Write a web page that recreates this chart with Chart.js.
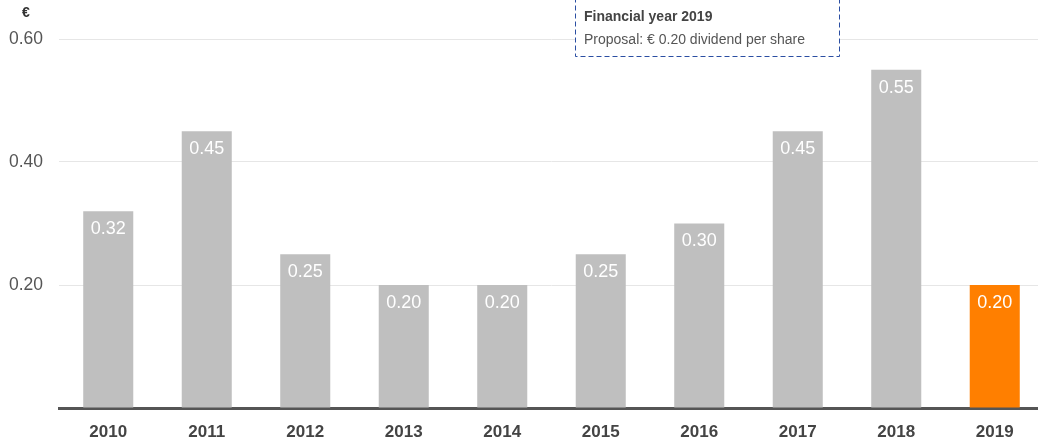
<!DOCTYPE html>
<html>
<head>
<meta charset="utf-8">
<script src="https://cdn.jsdelivr.net/npm/chart.js@4"></script>
<style>
  html, body { margin: 0; padding: 0; background: #fff; overflow: hidden; }
  #wrap { width: 1044px; height: 439px; }
</style>
</head>
<body>
<div id="wrap"><canvas id="myChart"></canvas></div>
<script>
// data
const years = ['2010', '2011', '2012', '2013', '2014', '2015', '2016', '2017', '2018', '2019'];
const dividends = [0.32, 0.45, 0.25, 0.20, 0.20, 0.25, 0.30, 0.45, 0.55, 0.20];
const yTicks = [0.20, 0.40, 0.60];
const noteTitle = 'Financial year 2019';
const noteText = 'Proposal: € 0.20 dividend per share';

const FONT = '"Liberation Sans", Arial, sans-serif';
const barColors = years.map((y, i) => i === years.length - 1 ? '#ff7f00' : '#bfbfbf');

// white value labels at the top of each bar
const valueLabels = {
    id: 'valueLabels',
    afterDatasetsDraw(chart) {
        const ctx = chart.ctx;
        const meta = chart.getDatasetMeta(0);
        ctx.save();
        ctx.font = '18px ' + FONT;
        ctx.fillStyle = '#ffffff';
        ctx.textAlign = 'center';
        ctx.textBaseline = 'middle';
        meta.data.forEach((bar, i) => {
            ctx.fillText(dividends[i].toFixed(2), bar.x, bar.y + 18);
        });
        ctx.restore();
    }
};

// currency sign and the dashed note box
const extras = {
    id: 'extras',
    afterDraw(chart) {
        const ctx = chart.ctx;
        ctx.save();
        ctx.font = 'bold 14px ' + FONT;
        ctx.fillStyle = '#333';
        ctx.textAlign = 'center';
        ctx.textBaseline = 'middle';
        ctx.fillText('€', 26, 13);

        ctx.fillStyle = '#fff';
        ctx.fillRect(575, -1, 265, 58);
        ctx.setLineDash([5, 3]);
        ctx.strokeStyle = '#2b4ea2';
        ctx.lineWidth = 1;
        ctx.strokeRect(575.5, -1.5, 264, 58);
        ctx.setLineDash([]);

        ctx.textAlign = 'left';
        ctx.textBaseline = 'middle';
        ctx.fillStyle = '#444';
        ctx.font = 'bold 14px ' + FONT;
        ctx.fillText(noteTitle, 584, 17);
        ctx.fillStyle = '#555';
        ctx.font = '14px ' + FONT;
        ctx.fillText(noteText, 584, 40);
        ctx.restore();
    }
};

const config = {
    type: 'bar',
    data: {
        labels: years,
        datasets: [{
            data: dividends,
            backgroundColor: barColors,
            categoryPercentage: 1,
            barPercentage: 0.508
        }]
    },
    options: {
        responsive: true,
        maintainAspectRatio: false,
        animation: false,
        events: [],
        layout: { padding: { top: 39, right: 0, left: 0, bottom: 0 } },
        plugins: {
            legend: { display: false },
            tooltip: { enabled: false }
        },
        scales: {
            x: {
                grid: { display: false, drawTicks: false },
                border: { display: true, color: '#555', width: 3 },
                ticks: {
                    color: '#444',
                    padding: 14,
                    font: { family: FONT, size: 17, weight: 'bold' }
                },
                afterFit(scale) { scale.height = 31; }
            },
            y: {
                min: 0,
                max: 0.6,
                grid: { color: '#e6e6e6', drawTicks: false },
                border: { display: false },
                afterBuildTicks(scale) {
                    scale.ticks = [0].concat(yTicks).map(v => ({ value: v }));
                },
                ticks: {
                    color: '#555',
                    padding: 16,
                    font: { family: FONT, size: 17.5 },
                    callback: v => v === 0 ? '' : v.toFixed(2)
                },
                afterFit(scale) { scale.width = 59; }
            }
        }
    },
    plugins: [valueLabels, extras]
};

new Chart(document.getElementById('myChart'), config);
</script>
</body>
</html>
